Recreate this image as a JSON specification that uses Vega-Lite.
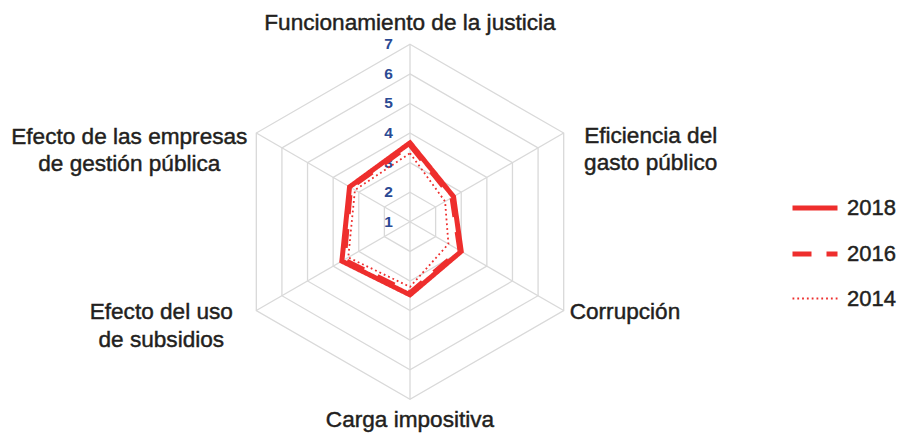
{
  "$schema": "https://vega.github.io/schema/vega-lite/v6.json",
  "width": 904,
  "height": 433,
  "autosize": "none",
  "padding": 0,
  "background": "white",
  "config": {
    "view": {"stroke": null},
    "text": {"font": "Liberation Sans", "fontSize": 22.6, "color": "#231f20", "stroke": "#231f20", "strokeWidth": 0.45},
    "legend": {
      "labelFont": "Liberation Sans",
      "labelFontSize": 22,
      "labelColor": "#231f20",
      "symbolType": "stroke",
      "symbolSize": 2025,
      "symbolStrokeColor": "#ee2e2d",
      "symbolOffset": 0,
      "labelOffset": 7,
      "padding": 0,
      "rowPadding": 10
    }
  },
  "datasets": {
    "ejes": [
      {"k": 0, "categoria": "Funcionamiento de la justicia", "etiqueta": "Funcionamiento de la justicia"},
      {"k": 1, "categoria": "Eficiencia del gasto público", "etiqueta": "Eficiencia del\ngasto público"},
      {"k": 2, "categoria": "Corrupción", "etiqueta": "Corrupción"},
      {"k": 3, "categoria": "Carga impositiva", "etiqueta": "Carga impositiva"},
      {"k": 4, "categoria": "Efecto del uso de subsidios", "etiqueta": "Efecto del uso\nde subsidios"},
      {"k": 5, "categoria": "Efecto de las empresas de gestión pública", "etiqueta": "Efecto de las empresas\nde gestión pública"}
    ],
    "datos": [
      {"anio": "2018", "categoria": "Funcionamiento de la justicia", "valor": 3.67},
      {"anio": "2018", "categoria": "Eficiencia del gasto público", "valor": 2.7},
      {"anio": "2018", "categoria": "Corrupción", "valor": 3.0},
      {"anio": "2018", "categoria": "Carga impositiva", "valor": 3.47},
      {"anio": "2018", "categoria": "Efecto del uso de subsidios", "valor": 3.66},
      {"anio": "2018", "categoria": "Efecto de las empresas de gestión pública", "valor": 3.36},
      {"anio": "2016", "categoria": "Funcionamiento de la justicia", "valor": 3.6},
      {"anio": "2016", "categoria": "Eficiencia del gasto público", "valor": 2.64},
      {"anio": "2016", "categoria": "Corrupción", "valor": 2.95},
      {"anio": "2016", "categoria": "Carga impositiva", "valor": 3.4},
      {"anio": "2016", "categoria": "Efecto del uso de subsidios", "valor": 3.57},
      {"anio": "2016", "categoria": "Efecto de las empresas de gestión pública", "valor": 3.32},
      {"anio": "2014", "categoria": "Funcionamiento de la justicia", "valor": 3.32},
      {"anio": "2014", "categoria": "Eficiencia del gasto público", "valor": 2.37},
      {"anio": "2014", "categoria": "Corrupción", "valor": 2.5},
      {"anio": "2014", "categoria": "Carga impositiva", "valor": 3.2},
      {"anio": "2014", "categoria": "Efecto del uso de subsidios", "valor": 3.41},
      {"anio": "2014", "categoria": "Efecto de las empresas de gestión pública", "valor": 3.15}
    ]
  },
  "encoding": {
    "x": {"field": "px", "type": "quantitative", "scale": {"domain": [-13.861, 16.701], "nice": false, "zero": false}, "axis": null},
    "y": {"field": "py", "type": "quantitative", "scale": {"domain": [-7.14, 7.498], "nice": false, "zero": false}, "axis": null}
  },
  "layer": [
    {
      "data": {"values": [
        {"nivel": 2, "k": [0, 1, 2, 3, 4, 5]},
        {"nivel": 3, "k": [0, 1, 2, 3, 4, 5]},
        {"nivel": 4, "k": [0, 1, 2, 3, 4, 5]},
        {"nivel": 5, "k": [0, 1, 2, 3, 4, 5]},
        {"nivel": 6, "k": [0, 1, 2, 3, 4, 5]},
        {"nivel": 7, "k": [0, 1, 2, 3, 4, 5]}
      ]},
      "transform": [
        {"flatten": ["k"]},
        {"calculate": "(datum.nivel - 1) * sin(datum.k * PI / 3)", "as": "px"},
        {"calculate": "(datum.nivel - 1) * cos(datum.k * PI / 3)", "as": "py"}
      ],
      "mark": {"type": "line", "interpolate": "linear-closed", "color": "#d9d9d9", "strokeWidth": 1.3},
      "encoding": {
        "detail": {"field": "nivel", "type": "nominal"},
        "order": {"field": "k", "type": "quantitative"}
      }
    },
    {
      "data": {"name": "ejes"},
      "transform": [
        {"calculate": "0", "as": "px"},
        {"calculate": "0", "as": "py"},
        {"calculate": "6 * sin(datum.k * PI / 3)", "as": "ex"},
        {"calculate": "6 * cos(datum.k * PI / 3)", "as": "ey"}
      ],
      "mark": {"type": "rule", "color": "#d9d9d9", "strokeWidth": 1.3},
      "encoding": {
        "x2": {"field": "ex"},
        "y2": {"field": "ey"}
      }
    },
    {
      "data": {"values": [{"nivel": 1}, {"nivel": 2}, {"nivel": 3}, {"nivel": 4}, {"nivel": 5}, {"nivel": 6}, {"nivel": 7}]},
      "transform": [
        {"calculate": "0", "as": "px"},
        {"calculate": "datum.nivel - 1", "as": "py"}
      ],
      "mark": {"type": "text", "align": "right", "baseline": "middle", "dx": -17, "fontSize": 15.5, "fontWeight": "bold", "color": "#2a4a94", "stroke": null},
      "encoding": {"text": {"field": "nivel", "type": "quantitative"}}
    },
    {
      "data": {"name": "datos"},
      "transform": [
        {"lookup": "categoria", "from": {"data": {"name": "ejes"}, "key": "categoria", "fields": ["k"]}},
        {"calculate": "(datum.valor - 1) * sin(datum.k * PI / 3)", "as": "px"},
        {"calculate": "(datum.valor - 1) * cos(datum.k * PI / 3)", "as": "py"}
      ],
      "mark": {"type": "line", "interpolate": "linear-closed", "color": "#ee2e2d"},
      "encoding": {
        "order": {"field": "k", "type": "quantitative"},
        "strokeDash": {
          "field": "anio", "type": "ordinal",
          "scale": {"domain": ["2018", "2016", "2014"], "range": [[1, 0], [19, 15], [1.8, 3]]},
          "legend": {"title": null, "orient": "none", "legendX": 790, "legendY": 183,
            "encode": {"labels": {"update": {"stroke": {"value": "#231f20"}, "strokeWidth": {"value": 0.45}}}}}
        },
        "strokeWidth": {
          "field": "anio", "type": "ordinal",
          "scale": {"type": "ordinal", "domain": ["2018", "2016", "2014"], "range": [5, 5, 1.8]},
          "legend": {"title": null, "orient": "none", "legendX": 790, "legendY": 183,
            "encode": {"labels": {"update": {"stroke": {"value": "#231f20"}, "strokeWidth": {"value": 0.45}}}}}
        }
      }
    },
    {
      "data": {"name": "ejes"},
      "transform": [
        {"filter": "datum.k == 0"},
        {"calculate": "6 * sin(datum.k * PI / 3)", "as": "px"},
        {"calculate": "6 * cos(datum.k * PI / 3)", "as": "py"}
      ],
      "mark": {"type": "text", "align": "center", "baseline": "middle", "dy": -21, "lineBreak": "\n"},
      "encoding": {"text": {"field": "etiqueta"}}
    },
    {
      "data": {"name": "ejes"},
      "transform": [
        {"filter": "datum.k == 1"},
        {"calculate": "6 * sin(datum.k * PI / 3)", "as": "px"},
        {"calculate": "6 * cos(datum.k * PI / 3)", "as": "py"}
      ],
      "mark": {"type": "text", "align": "center", "baseline": "middle", "dx": 87, "dy": 3, "lineHeight": 27, "lineBreak": "\n"},
      "encoding": {"text": {"field": "etiqueta"}}
    },
    {
      "data": {"name": "ejes"},
      "transform": [
        {"filter": "datum.k == 2"},
        {"calculate": "6 * sin(datum.k * PI / 3)", "as": "px"},
        {"calculate": "6 * cos(datum.k * PI / 3)", "as": "py"}
      ],
      "mark": {"type": "text", "align": "left", "baseline": "middle", "dx": 6, "dy": 1, "lineBreak": "\n"},
      "encoding": {"text": {"field": "etiqueta"}}
    },
    {
      "data": {"name": "ejes"},
      "transform": [
        {"filter": "datum.k == 3"},
        {"calculate": "6 * sin(datum.k * PI / 3)", "as": "px"},
        {"calculate": "6 * cos(datum.k * PI / 3)", "as": "py"}
      ],
      "mark": {"type": "text", "align": "center", "baseline": "middle", "dy": 21, "lineBreak": "\n"},
      "encoding": {"text": {"field": "etiqueta"}}
    },
    {
      "data": {"name": "ejes"},
      "transform": [
        {"filter": "datum.k == 4"},
        {"calculate": "6 * sin(datum.k * PI / 3)", "as": "px"},
        {"calculate": "6 * cos(datum.k * PI / 3)", "as": "py"}
      ],
      "mark": {"type": "text", "align": "center", "baseline": "middle", "dx": -95, "dy": 1.5, "lineHeight": 28, "lineBreak": "\n"},
      "encoding": {"text": {"field": "etiqueta"}}
    },
    {
      "data": {"name": "ejes"},
      "transform": [
        {"filter": "datum.k == 5"},
        {"calculate": "6 * sin(datum.k * PI / 3)", "as": "px"},
        {"calculate": "6 * cos(datum.k * PI / 3)", "as": "py"}
      ],
      "mark": {"type": "text", "align": "center", "baseline": "middle", "dx": -127, "dy": 3.5, "lineHeight": 27, "lineBreak": "\n"},
      "encoding": {"text": {"field": "etiqueta"}}
    }
  ]
}
